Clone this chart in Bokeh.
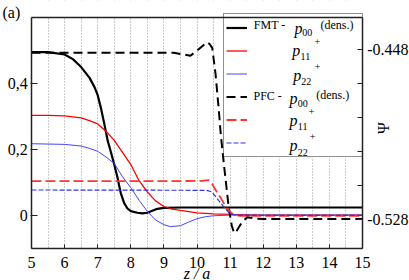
from bokeh.plotting import figure
from bokeh.models import (Range1d, LinearAxis, FixedTicker, CustomJSTickFormatter,
                          Legend, LegendItem, Label, BoxAnnotation)
from bokeh.core.properties import value
from bokeh.embed import file_html
from bokeh.resources import INLINE
import math

# ---------------- data ----------------
# FMT - p00 (density), left axis
z_fmt00 = [5.0, 5.5, 6.0, 6.25, 6.5, 6.75, 6.9, 7.0, 7.1, 7.2, 7.3, 7.4, 7.5, 7.6, 7.65,
           7.7, 7.8, 7.9, 8.0, 8.2, 8.35, 8.5, 8.65, 8.8, 9.0, 9.5, 10.0, 12.0, 15.0]
v_fmt00 = [0.495, 0.495, 0.488, 0.474, 0.450, 0.418, 0.390, 0.365, 0.325, 0.278, 0.228, 0.192,
           0.155, 0.115, 0.090, 0.068, 0.038, 0.022, 0.014, 0.009, 0.007, 0.009, 0.015,
           0.021, 0.024, 0.025, 0.025, 0.025, 0.025]
# FMT - p11
z_fmt11 = [5.0, 5.5, 6.0, 6.5, 6.75, 7.0, 7.25, 7.5, 7.75, 8.0, 8.25, 8.5, 8.75, 9.0,
           9.25, 9.5, 10.0, 10.5, 11.0, 12.0, 15.0]
v_fmt11 = [0.304, 0.304, 0.302, 0.296, 0.288, 0.278, 0.256, 0.228, 0.192, 0.155, 0.106,
           0.072, 0.045, 0.028, 0.020, 0.016, 0.009, 0.006, 0.004, 0.002, 0.002]
# FMT - p22
z_fmt22 = [5.0, 5.5, 6.0, 6.5, 6.75, 7.0, 7.25, 7.5, 7.75, 8.0, 8.25, 8.5, 8.75, 9.0,
           9.2, 9.5, 9.75, 10.0, 10.25, 10.5, 11.0, 12.0, 15.0]
v_fmt22 = [0.218, 0.217, 0.216, 0.211, 0.204, 0.195, 0.178, 0.158, 0.118, 0.085, 0.047,
           0.013, -0.013, -0.027, -0.033, -0.030, -0.019, -0.009, -0.003, 0.000, 0.002,
           0.002, 0.002]
# PFC - p00 (density), right axis (Psi)
z_pfc00 = [5.0, 9.3, 9.55, 9.8, 10.05, 10.3, 10.38, 10.46, 10.56, 10.66, 10.72, 10.81,
           10.96, 11.05, 11.12, 11.2, 11.36, 11.52, 11.8, 12.0, 15.0]
v_pfc00 = [-0.4496, -0.4496, -0.4503, -0.4510, -0.4480, -0.4447, -0.4455, -0.4473,
           -0.4596, -0.4768, -0.4885, -0.5017, -0.5228, -0.5310, -0.5346, -0.5335,
           -0.5294, -0.5271, -0.5278, -0.5280, -0.5280]
# PFC - p11
z_pfc11 = [5.0, 9.5, 10.2, 10.35, 10.45, 10.55, 10.7, 10.9, 11.1, 11.3, 15.0]
v_pfc11 = [0.105, 0.105, 0.106, 0.108, 0.098, 0.080, 0.057, 0.022, 0.003, 0.000, 0.000]
# PFC - p22
z_pfc22 = [5.0, 10.3, 10.45, 10.6, 10.8, 11.0, 11.2, 15.0]
v_pfc22 = [0.078, 0.077, 0.072, 0.053, 0.028, 0.006, 0.001, 0.001]

x_ticks = [5, 6, 7, 8, 9, 10, 11, 12, 13, 14, 15]
x_tick_labels = ["5", "6", "7", "8", "9", "10", "11", "12", "13", "14", "15"]
left_ticks = [0.0, 0.2, 0.4]
left_tick_labels = ["0", "0,2", "0,4"]
psi_major = [-0.528, -0.448]
psi_major_labels = ["-0.528", "-0.448"]
psi_minor = [-0.512, -0.496, -0.480, -0.464]
grid_z = [5.5 + 0.5 * i for i in range(19)]

X_IN = (5.0, 15.0)          # plotted z range
Y_IN = (-0.1, 0.6)          # left axis range
PSI_IN = (-0.5420, -0.4330)  # right axis range

# ---------------- layout (pixels) ----------------
W, H = 409, 280
L, R, T, B = 31.0, 362.0, 17.0, 248.3   # inner plot box on the page
FONT = "serif"

sx = (X_IN[1] - X_IN[0]) / (R - L)
sy = (Y_IN[1] - Y_IN[0]) / (B - T)
spsi = (PSI_IN[1] - PSI_IN[0]) / (B - T)
x_full = (X_IN[0] - L * sx, X_IN[1] + (W - R) * sx)
y_full = (Y_IN[0] - (H - B) * sy, Y_IN[1] + T * sy)
psi_full = (PSI_IN[0] - (H - B) * spsi, PSI_IN[1] + T * spsi)


def dx(px):
    return x_full[0] + px * sx


def dy(py):
    return y_full[1] - py * sy


p = figure(width=W, height=H, output_backend="svg", toolbar_location=None,
           x_range=Range1d(*x_full), y_range=Range1d(*y_full),
           min_border_left=0, min_border_right=0, min_border_top=0, min_border_bottom=0)
p.title.visible = False
p.extra_y_ranges = {"psi": Range1d(*psi_full)}
p.outline_line_color = None
p.background_fill_color = "white"
p.border_fill_color = "white"

p.ygrid.visible = False
p.xgrid.ticker = FixedTicker(ticks=grid_z)
p.xgrid.grid_line_color = "#999999"
p.xgrid.grid_line_dash = "1 2"
p.xgrid.grid_line_width = 1

blank = CustomJSTickFormatter(code="return '';")
AX = dict(axis_line_color="#222222", axis_line_width=1.5,
          major_tick_line_color="#222222", minor_tick_line_color=None)

xa = p.xaxis[0]
xa.update(ticker=FixedTicker(ticks=x_ticks), formatter=blank, fixed_location=Y_IN[0],
          bounds=X_IN, major_tick_in=4, major_tick_out=0, **AX)
ya = p.yaxis[0]
ya.update(ticker=FixedTicker(ticks=left_ticks), formatter=blank, fixed_location=X_IN[0],
          bounds=Y_IN, major_tick_in=6, major_tick_out=1, **AX)
ra = LinearAxis(y_range_name="psi", ticker=FixedTicker(ticks=psi_major, minor_ticks=psi_minor),
                formatter=blank, fixed_location=X_IN[1], bounds=PSI_IN,
                major_tick_in=5, major_tick_out=0, minor_tick_in=5, minor_tick_out=0,
                axis_line_color="#222222", axis_line_width=1.5,
                major_tick_line_color="#222222", minor_tick_line_color="#222222")
p.add_layout(ra, "right")
ta = LinearAxis(ticker=FixedTicker(ticks=[]), formatter=blank, fixed_location=Y_IN[1],
                bounds=X_IN, **AX)
p.add_layout(ta, "above")

# white masks so the grid only shows inside the plot box
p.add_layout(BoxAnnotation(bottom=Y_IN[1], fill_color="white", fill_alpha=1.0,
                           line_color=None, level="underlay"))
p.add_layout(BoxAnnotation(top=Y_IN[0], fill_color="white", fill_alpha=1.0,
                           line_color=None, level="underlay"))
p.add_layout(BoxAnnotation(left=dx(223), right=dx(358), top=dy(15), bottom=dy(157),
                           fill_color="white", fill_alpha=1.0, line_color=None,
                           level="underlay"))

# ---------------- curves ----------------
r1 = p.line(z_fmt00, v_fmt00, line_color="black", line_width=2.2)
r2 = p.line(z_fmt11, v_fmt11, line_color="#ff0000", line_width=1.3)
r3 = p.line(z_fmt22, v_fmt22, line_color="#4444ff", line_width=1.0)
r4 = p.line(z_pfc00, v_pfc00, line_color="black", line_width=2.0, line_dash="9 5",
            y_range_name="psi")
r5 = p.line(z_pfc11, v_pfc11, line_color="#ff3333", line_width=1.8, line_dash="10 4")
r6 = p.line(z_pfc22, v_pfc22, line_color="#3333ee", line_width=1.2, line_dash="5 2")

legend = Legend(items=[LegendItem(label=value(" "), renderers=[r]) for r in (r1, r2, r3, r4, r5, r6)],
                location=(223, H - 157), orientation="vertical",
                padding=2, spacing=0, margin=0,
                glyph_width=21, glyph_height=23, label_height=23,
                label_width=108, label_standoff=5,
                border_line_color="#222222", border_line_width=1,
                background_fill_alpha=0.0,
                label_text_font=FONT, label_text_font_size="12px")
p.add_layout(legend, "center")


def add_text(txt, x, y, size="16px", style="normal", align="left", baseline="alphabetic",
             angle=0.0, y_range_name="default"):
    p.add_layout(Label(x=x, y=y, text=txt, text_font=FONT, text_font_size=size,
                       text_font_style=style, text_color="black", text_align=align,
                       text_baseline=baseline, angle=angle, y_range_name=y_range_name,
                       level="overlay"))


# tick labels (placed at the tick values through the scales)
for t, lab in zip(x_ticks, x_tick_labels):
    add_text(lab, t, dy(261.5), align="center")
for t, lab in zip(left_ticks, left_tick_labels):
    add_text(lab, dx(27.3), t, align="right", baseline="middle")
for t, lab in zip(psi_major, psi_major_labels):
    add_text(lab, dx(366.7), t, align="left", baseline="middle", y_range_name="psi")

# legend texts: (text, page x, page baseline y, size, style)
LEG_DY = -2.0
legend_texts = [
    ("FMT -", 253.3, 26.7, "12px", "normal"),
    ("p", 294.0, 29.8, "16px", "italic"),
    ("00", 301.7, 34.0, "10px", "normal"),
    ("(dens.)", 320.0, 26.3, "12px", "normal"),
    ("+", 314.0, 42.5, "10px", "normal"),
    ("p", 291.7, 51.5, "16px", "italic"),
    ("11", 300.0, 58.3, "10px", "normal"),
    ("+", 314.3, 68.0, "10px", "normal"),
    ("p", 292.7, 76.5, "16px", "italic"),
    ("22", 300.7, 82.7, "10px", "normal"),
    ("PFC -", 253.0, 97.3, "12px", "normal"),
    ("p", 289.0, 99.8, "16px", "italic"),
    ("00", 297.3, 105.0, "10px", "normal"),
    ("(dens.)", 315.7, 96.5, "12px", "normal"),
    ("+", 308.3, 113.0, "10px", "normal"),
    ("p", 289.0, 121.5, "16px", "italic"),
    ("11", 297.3, 128.3, "10px", "normal"),
    ("+", 309.3, 137.5, "10px", "normal"),
    ("p", 289.0, 146.5, "16px", "italic"),
    ("22", 297.3, 154.0, "10px", "normal"),
]
for txt, px, py, size, style in legend_texts:
    add_text(txt, dx(px), dy(py + LEG_DY), size=size, style=style)

# panel tag and axis titles
add_text("(a)", dx(2.0), dy(11.5))
add_text("z / a", 10.0, dy(272.5), style="italic", align="center")
add_text("Ψ", dx(382.5), dy(127.5), align="center", baseline="middle", angle=math.pi / 2)

open("out.html", "w").write(file_html(p, INLINE))
